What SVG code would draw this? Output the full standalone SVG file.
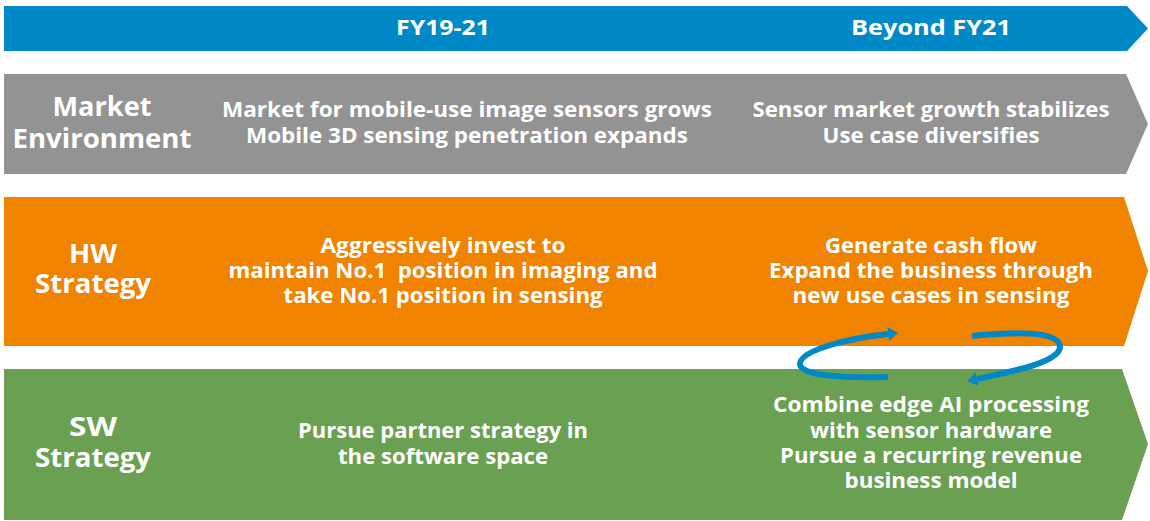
<svg xmlns="http://www.w3.org/2000/svg" width="1150" height="521" viewBox="0 0 1150 521">
  <style>
    text { font-family: "Open Sans", "Noto Sans", "DejaVu Sans", sans-serif; font-weight: bold; fill: #ffffff; text-anchor: middle; }
    .hdr { font-size: 22px; }
    .lbl { font-size: 26px; }
    .body { font-size: 22px; }
    .pre { white-space: pre; }
    .cyc { fill: none; stroke: #0088C7; stroke-width: 6; stroke-linecap: butt; }
  </style>
  <defs>
    <marker id="ah" markerUnits="userSpaceOnUse" markerWidth="12" markerHeight="16" viewBox="0 -8 12 16" refX="0" refY="0" orient="auto">
      <path d="M0,-7 L10,0 L0,7 Z" fill="#0088C7"/>
    </marker>
  </defs>

  <g id="timeline">
    <path d="M4 6 H1127 L1148 28.5 L1127 51 H4 Z" fill="#0088C7"/>
    <text class="hdr" x="443" y="35" textLength="94" lengthAdjust="spacingAndGlyphs">FY19-21</text>
    <text class="hdr" x="931" y="35" textLength="160" lengthAdjust="spacingAndGlyphs">Beyond FY21</text>
  </g>

  <g id="market">
    <path d="M4 74 H1126 L1148 124 L1126 174 H4 Z" fill="#939393"/>
    <text class="lbl" x="102" y="116" textLength="99" lengthAdjust="spacingAndGlyphs">Market</text>
    <text class="lbl" x="102" y="148" textLength="179" lengthAdjust="spacingAndGlyphs">Environment</text>
    <text class="body" x="467" y="117" textLength="490" lengthAdjust="spacingAndGlyphs">Market for mobile-use image sensors grows</text>
    <text class="body" x="467" y="143" textLength="442" lengthAdjust="spacingAndGlyphs">Mobile 3D sensing penetration expands</text>
    <text class="body" x="931" y="117" textLength="357" lengthAdjust="spacingAndGlyphs">Sensor market growth stabilizes</text>
    <text class="body" x="931" y="143" textLength="217" lengthAdjust="spacingAndGlyphs">Use case diversifies</text>
  </g>

  <g id="hw">
    <path d="M4 197 H1124 L1148 271 L1124 346 H4 Z" fill="#F08300"/>
    <text class="lbl" x="93" y="263" textLength="48" lengthAdjust="spacingAndGlyphs">HW</text>
    <text class="lbl" x="93" y="293" textLength="116" lengthAdjust="spacingAndGlyphs">Strategy</text>
    <text class="body" x="443" y="253" textLength="245" lengthAdjust="spacingAndGlyphs">Aggressively invest to</text>
    <text class="body pre" x="443" y="278" textLength="429" lengthAdjust="spacingAndGlyphs">maintain No.1  position in imaging and</text>
    <text class="body" x="443" y="303" textLength="319" lengthAdjust="spacingAndGlyphs">take No.1 position in sensing</text>
    <text class="body" x="931" y="253" textLength="212" lengthAdjust="spacingAndGlyphs">Generate cash flow</text>
    <text class="body" x="931" y="278" textLength="324" lengthAdjust="spacingAndGlyphs">Expand the business through</text>
    <text class="body" x="931" y="303" textLength="277" lengthAdjust="spacingAndGlyphs">new use cases in sensing</text>
  </g>

  <g id="sw">
    <path d="M4 369 H1122 L1148 444 L1122 520 H4 Z" fill="#69A051"/>
    <text class="lbl" x="93" y="436" textLength="48" lengthAdjust="spacingAndGlyphs">SW</text>
    <text class="lbl" x="93" y="467" textLength="116" lengthAdjust="spacingAndGlyphs">Strategy</text>
    <text class="body" x="443" y="438" textLength="290" lengthAdjust="spacingAndGlyphs">Pursue partner strategy in</text>
    <text class="body" x="443" y="464" textLength="210" lengthAdjust="spacingAndGlyphs">the software space</text>
    <text class="body" x="931" y="412" textLength="316" lengthAdjust="spacingAndGlyphs">Combine edge AI processing</text>
    <text class="body" x="931" y="438" textLength="242" lengthAdjust="spacingAndGlyphs">with sensor hardware</text>
    <text class="body" x="931" y="463" textLength="302" lengthAdjust="spacingAndGlyphs">Pursue a recurring revenue</text>
    <text class="body" x="931" y="488" textLength="173" lengthAdjust="spacingAndGlyphs">business model</text>
  </g>

  <g id="connectors">
    <path class="cyc" d="M888 377 C845 378, 800 376, 800 364 C800 350, 850 338, 888 334" marker-end="url(#ah)"/>
    <path class="cyc" d="M972 336 C1010 332, 1060 330, 1060 347 C1059 362, 1015 371, 977 379" marker-end="url(#ah)"/>
  </g>
</svg>
